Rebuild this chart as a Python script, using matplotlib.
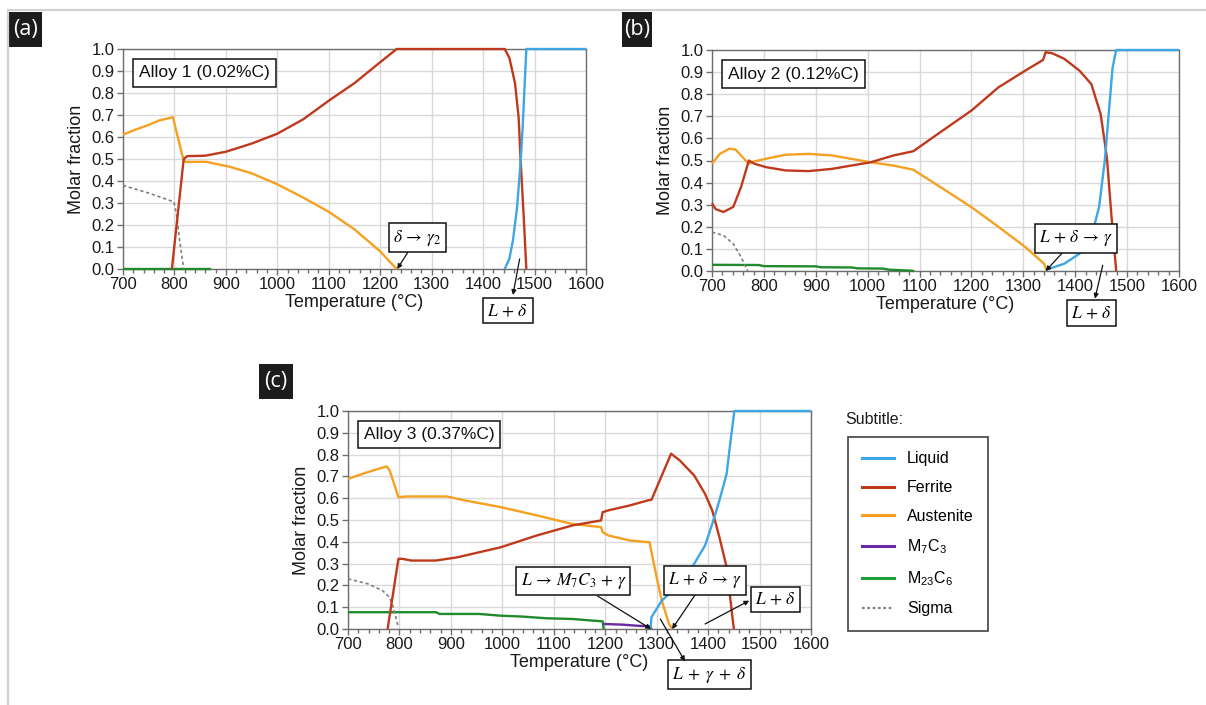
import matplotlib
matplotlib.use("Agg")
import matplotlib.pyplot as plt
from matplotlib.lines import Line2D
from matplotlib.patches import Rectangle
from matplotlib.ticker import MultipleLocator, FormatStrFormatter

plt.rcParams['font.family'] = ['Liberation Sans', 'DejaVu Sans']
plt.rcParams['mathtext.fontset'] = 'stix'

# ---------------- phase colours ----------------
C_LIQ = '#3ea6e2'
C_FER = '#bf3a1c'
C_AUS = '#f5a021'
C_M7 = '#6b2aa5'
C_M23 = '#218a2c'
C_SIG = '#808080'

# ---------------- Alloy 1 (0.02%C) ----------------
a_liquid_T = [1442, 1451, 1458, 1466, 1473, 1477, 1484, 1600]
a_liquid_f = [0.0, 0.046, 0.13, 0.28, 0.49, 0.65, 1.0, 1.0]
a_ferrite_T = [795, 818, 825, 860, 900, 950, 1000, 1050, 1100, 1150, 1200, 1232,
               1442, 1451, 1462, 1469, 1473, 1479, 1484]
a_ferrite_f = [0.0, 0.50, 0.513, 0.515, 0.533, 0.57, 0.615, 0.68, 0.765, 0.845, 0.94, 1.0,
               1.0, 0.96, 0.845, 0.69, 0.49, 0.235, 0.0]
a_austenite_T = [700, 720, 750, 770, 797, 816, 821, 862, 907, 950, 1000, 1050, 1100, 1150, 1200, 1232]
a_austenite_f = [0.61, 0.63, 0.655, 0.675, 0.69, 0.51, 0.487, 0.487, 0.465, 0.435, 0.385, 0.325,
                 0.26, 0.18, 0.08, 0.0]
a_sigma_T = [700, 750, 799, 804, 810, 818]
a_sigma_f = [0.38, 0.345, 0.305, 0.25, 0.13, 0.0]
a_m23_T = [700, 872]
a_m23_f = [0.0, 0.0]

# ---------------- Alloy 2 (0.12%C) ----------------
b_liquid_T = [1343, 1379, 1408, 1431, 1446, 1457, 1464, 1472, 1479, 1600]
b_liquid_f = [0.005, 0.033, 0.078, 0.154, 0.29, 0.5, 0.696, 0.92, 1.0, 1.0]
b_ferrite_T = [700, 707, 722, 741, 756, 771, 782, 804, 842, 886, 931, 968, 1006, 1050, 1088,
               1140, 1200, 1252, 1304, 1338, 1343, 1356, 1379, 1408, 1431, 1449, 1461, 1470, 1479]
b_ferrite_f = [0.307, 0.28, 0.267, 0.29, 0.38, 0.5, 0.485, 0.47, 0.455, 0.452, 0.462, 0.477,
               0.492, 0.523, 0.542, 0.628, 0.726, 0.831, 0.907, 0.955, 0.99, 0.985, 0.96, 0.907,
               0.846, 0.71, 0.515, 0.244, 0.0]
b_austenite_T = [700, 715, 733, 745, 771, 780, 804, 842, 886, 931, 1006, 1050, 1088, 1140, 1200,
                 1252, 1304, 1340, 1345]
b_austenite_f = [0.485, 0.53, 0.553, 0.55, 0.485, 0.495, 0.508, 0.526, 0.53, 0.523, 0.492, 0.477,
                 0.458, 0.38, 0.289, 0.2, 0.108, 0.033, 0.0]
b_sigma_T = [700, 722, 741, 756, 769]
b_sigma_f = [0.176, 0.161, 0.123, 0.063, 0.0]
b_m23_T = [700, 790, 800, 900, 910, 970, 980, 1030, 1040, 1080, 1090]
b_m23_f = [0.028, 0.027, 0.022, 0.021, 0.017, 0.016, 0.012, 0.011, 0.006, 0.002, 0.0]

# ---------------- Alloy 3 (0.37%C) ----------------
c_liquid_T = [1288, 1290, 1310, 1345, 1373, 1394, 1408, 1422, 1436, 1443, 1451, 1600]
c_liquid_f = [0.0, 0.055, 0.13, 0.207, 0.299, 0.383, 0.482, 0.59, 0.712, 0.85, 1.0, 1.0]
c_ferrite_T = [777, 798, 805, 823, 871, 913, 997, 1067, 1136, 1192, 1195, 1206, 1248, 1283, 1290,
               1328, 1345, 1373, 1394, 1408, 1422, 1436, 1450]
c_ferrite_f = [0.0, 0.322, 0.322, 0.314, 0.314, 0.329, 0.375, 0.429, 0.475, 0.498, 0.536, 0.544,
               0.567, 0.59, 0.593, 0.804, 0.773, 0.704, 0.62, 0.544, 0.421, 0.283, 0.0]
c_austenite_T = [700, 739, 775, 781, 798, 816, 857, 892, 927, 997, 1067, 1136, 1192, 1195, 1206,
                 1248, 1286, 1290, 1300, 1310, 1324, 1331]
c_austenite_f = [0.689, 0.72, 0.746, 0.727, 0.605, 0.608, 0.608, 0.608, 0.59, 0.559, 0.521, 0.482,
                 0.467, 0.444, 0.429, 0.406, 0.398, 0.352, 0.237, 0.13, 0.023, 0.0]
c_sigma_T = [700, 739, 767, 781, 788, 798]
c_sigma_f = [0.23, 0.207, 0.176, 0.145, 0.1, 0.008]
c_m23_T = [700, 871, 878, 955, 997, 1039, 1087, 1136, 1195, 1197]
c_m23_f = [0.077, 0.077, 0.069, 0.069, 0.061, 0.057, 0.049, 0.046, 0.035, 0.0]
c_m7_T = [1197, 1234, 1262, 1288, 1290]
c_m7_f = [0.023, 0.02, 0.015, 0.012, 0.0]

x_ticks = list(range(700, 1601, 100))
y_ticks = [i / 10 for i in range(11)]
legend_labels = ['Liquid', 'Ferrite', 'Austenite',
                 r'M$_\mathregular{7}$C$_\mathregular{3}$',
                 r'M$_\mathregular{23}$C$_\mathregular{6}$', 'Sigma']

W, H = 1206, 705
fig = plt.figure(figsize=(W / 100, H / 100), dpi=100)
INK = '#1a1a1a'


def px_axes(left, right, top, bottom):
    return fig.add_axes([left / W, 1 - bottom / H, (right - left) / W, (bottom - top) / H])


def style_axes(ax):
    ax.set_xlim(700, 1600)
    ax.set_ylim(0, 1.0)
    ax.set_xticks(x_ticks)
    ax.set_yticks(y_ticks)
    ax.xaxis.set_minor_locator(MultipleLocator(20))
    ax.yaxis.set_major_formatter(FormatStrFormatter('%.1f'))
    ax.grid(True, which='major', color='#d9d9d9', lw=1.0)
    ax.set_axisbelow(True)
    for s in ax.spines.values():
        s.set_color('#6e6e6e')
        s.set_linewidth(1.0)
    ax.tick_params(axis='both', which='major', direction='out', length=4, width=1,
                   color='#6e6e6e', labelsize=12, labelcolor=INK, pad=2)
    ax.tick_params(axis='x', which='minor', direction='out', length=3, width=1, color='#6e6e6e')
    ax.tick_params(axis='y', which='minor', length=0)
    ax.set_xlabel('Temperature (°C)', fontsize=13, labelpad=1, color=INK)
    ax.set_ylabel('Molar fraction', fontsize=13, labelpad=5, color=INK)


def curve(ax, T, f, color, ls='-', lw=1.7):
    ax.plot(T, f, color=color, lw=lw, ls=ls, zorder=3, clip_on=False,
            solid_joinstyle='round', solid_capstyle='butt')


def sigma(ax, T, f):
    ax.plot(T, f, color=C_SIG, lw=1.2, ls=(0, (2.0, 1.6)), zorder=3)


def alloy_box(ax, text):
    ax.text(0.034, 0.925, text, transform=ax.transAxes, ha='left', va='top', fontsize=12.5,
            color='#111111',
            bbox=dict(boxstyle='square,pad=0.35', facecolor='white', edgecolor='#111111', lw=1.1),
            zorder=5)


BOX = dict(boxstyle='square,pad=0.25', facecolor='white', edgecolor='#111111', lw=1.1)
ARROW = dict(arrowstyle='-|>', color='#111111', lw=0.9, mutation_scale=7, shrinkA=0, shrinkB=0)
NOTE_SIZE = 12.5


def note(ax, text, xy, xytext):
    # boxed label with an arrow from the box to the marked point
    ax.annotate(text, xy=xy, xytext=xytext, ha='center', va='center', fontsize=NOTE_SIZE,
                bbox=BOX, annotation_clip=False, zorder=6, arrowprops=ARROW)


def region(ax, text, start, end, xytext):
    # boxed label for a phase region, with an arrow pointing from the region to the box
    ax.text(xytext[0], xytext[1], text, ha='center', va='center', fontsize=NOTE_SIZE,
            bbox=BOX, zorder=6, clip_on=False)
    ax.annotate('', xy=end, xytext=start, annotation_clip=False, zorder=6, arrowprops=ARROW)


# ---------------- panel (a) ----------------
ax_a = px_axes(123, 586, 49, 269)
style_axes(ax_a)
curve(ax_a, a_m23_T, a_m23_f, C_M23)
sigma(ax_a, a_sigma_T, a_sigma_f)
curve(ax_a, a_austenite_T, a_austenite_f, C_AUS)
curve(ax_a, a_ferrite_T, a_ferrite_f, C_FER)
curve(ax_a, a_liquid_T, a_liquid_f, C_LIQ)
alloy_box(ax_a, 'Alloy 1 (0.02%C)')
note(ax_a, r'$\delta\, \rightarrow\, \gamma_2$', (1233, 0.0), (1272, 0.143))
region(ax_a, r'$L\, +\, \delta$', (1471, 0.046), (1458, -0.118), (1448, -0.19))

# ---------------- panel (b) ----------------
ax_b = px_axes(712, 1179, 50, 271)
style_axes(ax_b)
curve(ax_b, b_m23_T, b_m23_f, C_M23)
sigma(ax_b, b_sigma_T, b_sigma_f)
curve(ax_b, b_austenite_T, b_austenite_f, C_AUS)
curve(ax_b, b_ferrite_T, b_ferrite_f, C_FER)
curve(ax_b, b_liquid_T, b_liquid_f, C_LIQ)
alloy_box(ax_b, 'Alloy 2 (0.12%C)')
note(ax_b, r'$L\, +\, \delta\, \rightarrow\, \gamma$', (1343, 0.0), (1401, 0.148))
region(ax_b, r'$L\, +\, \delta$', (1453, 0.026), (1438, -0.125), (1431, -0.19))

# ---------------- panel (c) ----------------
ax_c = px_axes(348, 811, 411, 629)
style_axes(ax_c)
curve(ax_c, c_m23_T, c_m23_f, C_M23)
curve(ax_c, c_m7_T, c_m7_f, C_M7)
sigma(ax_c, c_sigma_T, c_sigma_f)
curve(ax_c, c_austenite_T, c_austenite_f, C_AUS)
curve(ax_c, c_ferrite_T, c_ferrite_f, C_FER)
curve(ax_c, c_liquid_T, c_liquid_f, C_LIQ)
alloy_box(ax_c, 'Alloy 3 (0.37%C)')
note(ax_c, r'$L\, \rightarrow\, M_7C_3\, +\, \gamma$', (1289, 0.0), (1138, 0.22))
note(ax_c, r'$L\, +\, \delta\, \rightarrow\, \gamma$', (1330, 0.0), (1394, 0.224))
region(ax_c, r'$L\, +\, \delta$', (1394, 0.023), (1480, 0.13), (1531, 0.137))
region(ax_c, r'$L\; +\; \gamma\; +\; \delta$', (1307, 0.046), (1355, -0.148), (1403, -0.21))

# ---------------- legend ----------------
handles = [Line2D([], [], color=C_LIQ, lw=2.2),
           Line2D([], [], color=C_FER, lw=2.2),
           Line2D([], [], color=C_AUS, lw=2.2),
           Line2D([], [], color=C_M7, lw=2.2),
           Line2D([], [], color='#1fa035', lw=2.2),
           Line2D([], [], color=C_SIG, lw=1.6, ls=(0, (1.2, 1.2)))]
leg = fig.legend(handles, legend_labels, loc='upper left',
                 bbox_to_anchor=(848 / W, 1 - 437 / H), frameon=True, fancybox=False,
                 fontsize=11.5, handlelength=2.0, handletextpad=0.8, labelspacing=0.86,
                 borderpad=0.9, borderaxespad=0)
leg.get_frame().set_edgecolor('#111111')
leg.get_frame().set_linewidth(1.2)
fig.text(845 / W, 1 - 420 / H, 'Subtitle:', ha='left', va='center', fontsize=11.5, color=INK)

# ---------------- panel letters ----------------
for label, (x0, y0, x1, y1) in [('(a)', (9, 12, 42, 47)), ('(b)', (622, 12, 652, 47)),
                                ('(c)', (259, 364, 293, 399))]:
    fig.add_artist(Rectangle((x0 / W, 1 - y1 / H), (x1 - x0) / W, (y1 - y0) / H,
                             transform=fig.transFigure, facecolor='#1c1c1c', edgecolor='none'))
    fig.text((x0 + x1) / 2 / W, 1 - (y0 + y1) / 2 / H, label, ha='center', va='center',
             color='white', fontsize=15.5, family=['Open Sans', 'DejaVu Sans'])

# ---------------- outer frame ----------------
fig.add_artist(Line2D([8 / W, 1], [1 - 10 / H, 1 - 10 / H], transform=fig.transFigure,
                      color='#d2d2d2', lw=1.6))
fig.add_artist(Line2D([8 / W, 8 / W], [0, 1 - 10 / H], transform=fig.transFigure,
                      color='#d2d2d2', lw=1.6))

fig.savefig('out.png', dpi=100, facecolor='white')
